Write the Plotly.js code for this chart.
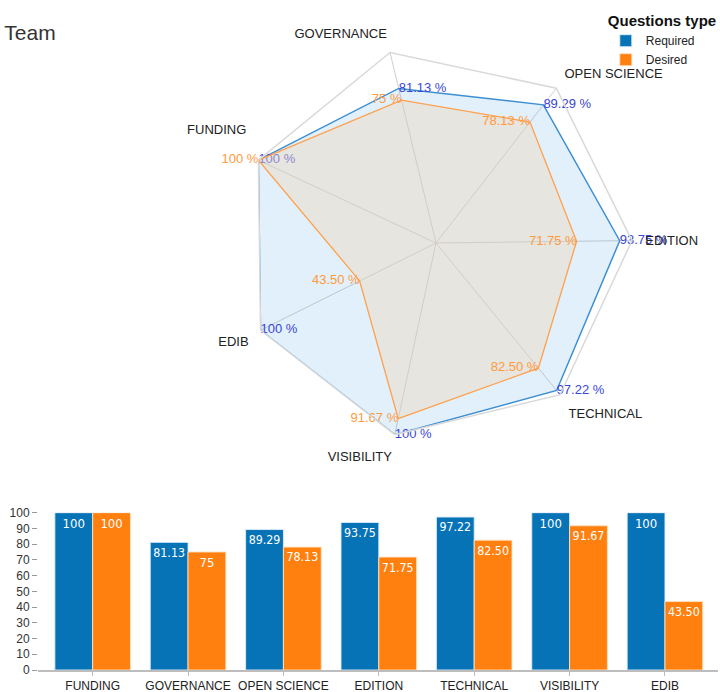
<!DOCTYPE html>
<html>
<head>
<meta charset="utf-8">
<script src="https://cdn.plot.ly/plotly-3.0.1.min.js"></script>
<style>html,body{margin:0;padding:0;background:#fff;}#chart{width:720px;height:692px;}</style>
</head>
<body>
<div id="chart"></div>
<script>
const categories = ['FUNDING', 'GOVERNANCE', 'OPEN SCIENCE', 'EDITION', 'TECHNICAL', 'VISIBILITY', 'EDIB'];
const required = [100, 81.13, 89.29, 93.75, 97.22, 100, 100];
const desired = [100, 75, 78.13, 71.75, 82.50, 91.67, 43.50];
const requiredLabels = ['100', '81.13', '89.29', '93.75', '97.22', '100', '100'];
const desiredLabels = ['100', '75', '78.13', '71.75', '82.50', '91.67', '43.50'];
const seriesNames = ['Required', 'Desired'];

const blue = '#0673b7';
const orange = '#ff7f0f';
const narrow = 'Liberation Sans Narrow, DejaVu Sans Condensed, Arial Narrow, sans-serif';
const sans = 'Liberation Sans, Arial, sans-serif';

function closed(arr, extra) { return arr.concat([extra !== undefined ? extra : arr[0]]); }

// angular labels: FUNDING lifted above its value label as in the reference
const angularText = categories.map(c => c === 'FUNDING' ? 'FUNDING<br> <br> ' : c);

const polarReq = {
  type: 'scatterpolar', subplot: 'polar', name: seriesNames[0], showlegend: false,
  theta: closed(categories), r: closed(required),
  text: closed(requiredLabels.map(t => t + ' %'), ''),
  mode: 'lines+text', textposition: 'middle right',
  textfont: {family: sans, size: 13, color: '#3a46d6'},
  line: {color: '#3d8fd1', width: 1.5},
  fill: 'toself', fillcolor: 'rgba(52,152,219,0.15)', hoverinfo: 'skip'
};
const polarDes = {
  type: 'scatterpolar', subplot: 'polar', name: seriesNames[1], showlegend: false,
  theta: closed(categories), r: closed(desired),
  text: closed(desiredLabels.map(t => t + ' %'), ''),
  mode: 'lines+text', textposition: 'middle left',
  textfont: {family: sans, size: 13, color: '#ff9a3d'},
  line: {color: '#ffa04d', width: 1.3},
  fill: 'toself', fillcolor: 'rgba(240,215,190,0.45)', hoverinfo: 'skip'
};
const barReq = {
  type: 'bar', name: seriesNames[0], x: categories, y: required, text: requiredLabels,
  textposition: 'inside', insidetextanchor: 'end', textangle: 0,
  textfont: {family: narrow, size: 13, color: '#ffffff'},
  marker: {color: blue, line: {color: 'rgba(220,235,250,0.9)', width: 1}},
  xaxis: 'x', yaxis: 'y'
};
const barDes = {
  type: 'bar', name: seriesNames[1], x: categories, y: desired, text: desiredLabels,
  textposition: 'inside', insidetextanchor: 'end', textangle: 0,
  textfont: {family: narrow, size: 13, color: '#ffffff'},
  marker: {color: orange, line: {color: 'rgba(255,225,190,0.9)', width: 1}},
  xaxis: 'x', yaxis: 'y'
};

const layout = {
  width: 720, height: 692,
  paper_bgcolor: '#ffffff', plot_bgcolor: '#ffffff',
  margin: {l: 38, r: 2, t: 0, b: 22},
  font: {family: sans, color: '#222'},
  title: {text: 'Team', x: 0.006, xanchor: 'left', xref: 'container', y: 0.953, yanchor: 'middle', yref: 'container',
          font: {family: sans, size: 21, color: '#333'}},
  showlegend: true,
  legend: {x: 0.835, xanchor: 'left', y: 0.99, yanchor: 'top', bgcolor: 'rgba(0,0,0,0)',
           title: {text: '<b>Questions type</b>', font: {family: sans, size: 15, color: '#111'}, side: 'top'},
           font: {family: sans, size: 12, color: '#222'}, tracegroupgap: 0, itemwidth: 30},
  polar: {
    domain: {x: [0.2971, 0.8735], y: [0.3448, 0.9298]},
    gridshape: 'linear', bgcolor: 'rgba(0,0,0,0)',
    radialaxis: {range: [0, 100], visible: false, showgrid: false},
    angularaxis: {type: 'category', categoryarray: categories, direction: 'clockwise', rotation: 155,
                  tickmode: 'array', tickvals: categories, ticktext: angularText,
                  showline: true, linecolor: '#d9d9d9', linewidth: 1.5, gridcolor: '#cfcfcf', gridwidth: 1,
                  ticks: 'outside', ticklen: 10, tickcolor: 'rgba(0,0,0,0)',
                  tickfont: {family: sans, size: 13, color: '#222'}}
  },
  xaxis: {domain: [0, 1], range: [-0.573, 6.556], anchor: 'y', showline: true, linecolor: '#bdbdbd', linewidth: 2,
          ticks: 'outside', tickcolor: '#bdbdbd', ticklen: 4, showgrid: false, zeroline: false,
          tickfont: {family: sans, size: 12, color: '#222'}},
  yaxis: {domain: [0, 0.2348], range: [0, 100], dtick: 10, anchor: 'x', ticks: 'outside', ticklen: 5, tickcolor: '#999',
          showgrid: false, zeroline: false, showline: false, tickfont: {family: sans, size: 12, color: '#333'}},
  bargap: 0.2075, bargroupgap: 0
};

Plotly.newPlot('chart', [polarReq, polarDes, barReq, barDes], layout, {displayModeBar: false, staticPlot: true});
</script>
</body>
</html>
